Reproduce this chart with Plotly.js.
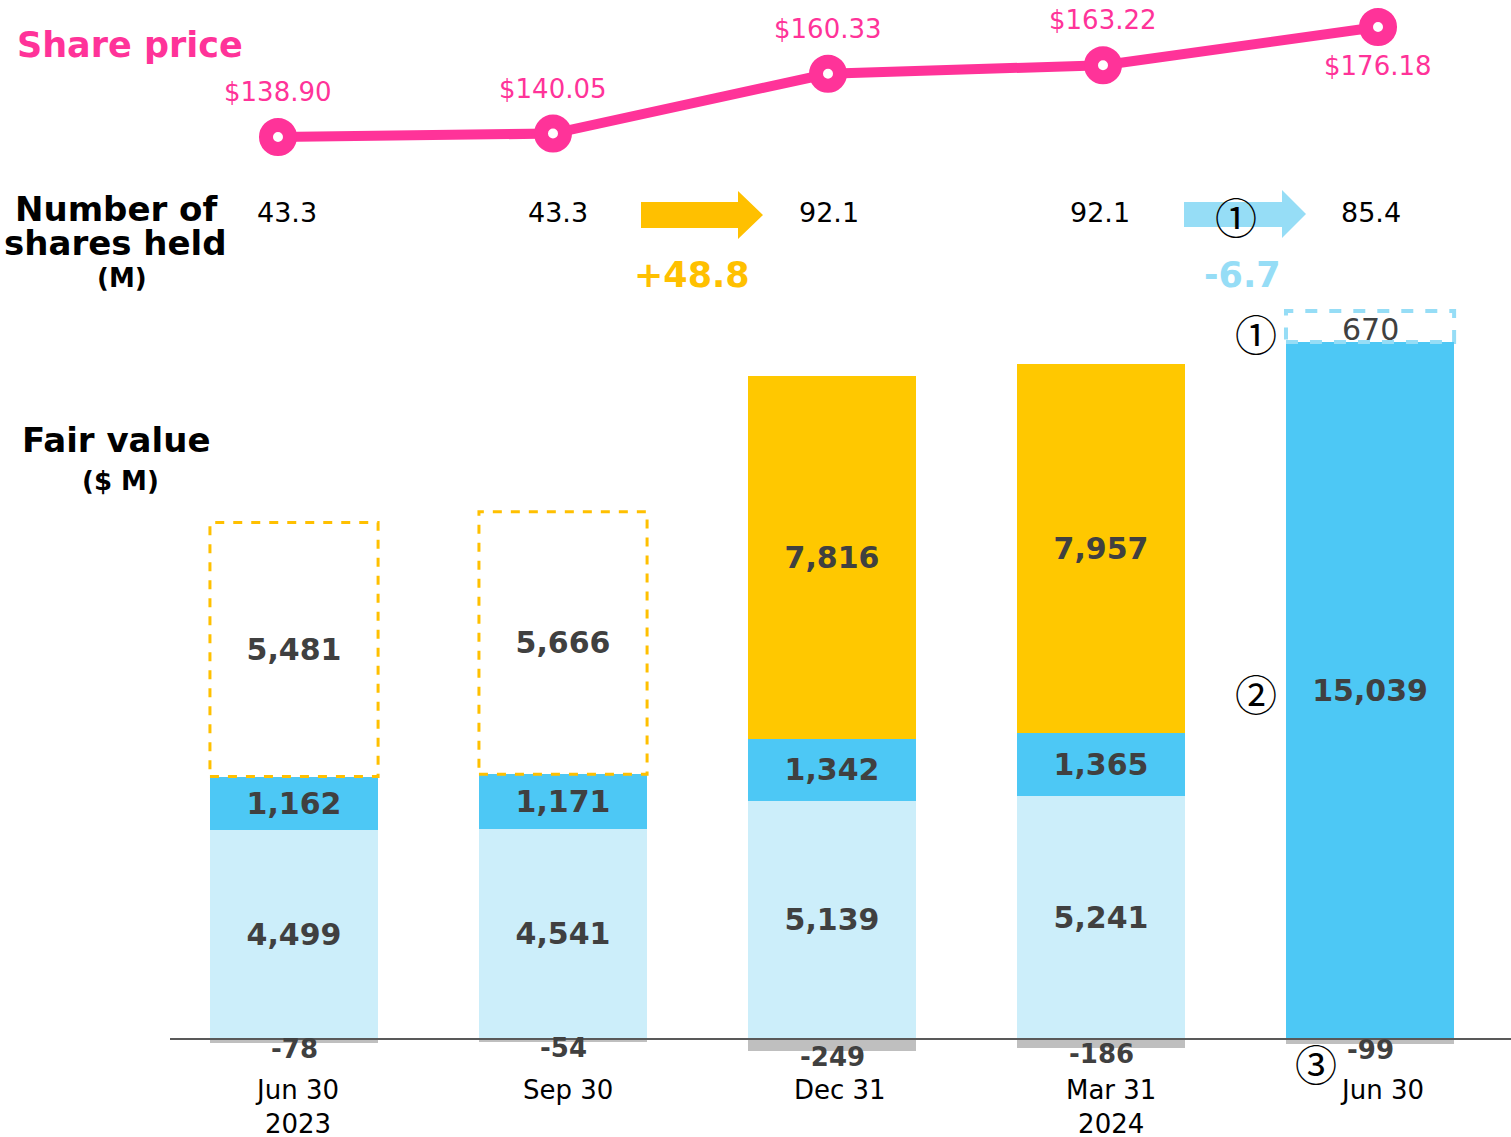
<!DOCTYPE html>
<html>
<head>
<meta charset="utf-8">
<script src="https://cdn.plot.ly/plotly-3.0.1.min.js"></script>
<style>html,body{margin:0;padding:0;background:#fff;}#chart{width:1511px;height:1137px;}</style>
</head>
<body>
<div id="chart"></div>
<script>
// ---- data ----
const categories = ['Jun 30<br>2023', 'Sep 30', 'Dec 31', 'Mar 31<br>2024', 'Jun 30'];
const sharePrice = [138.90, 140.05, 160.33, 163.22, 176.18];
const sharesHeld = [43.3, 43.3, 92.1, 92.1, 85.4];
const shareChanges = [48.8, -6.7];
const fvBase = [4499, 4541, 5139, 5241, null];
const fvMid = [1162, 1171, 1342, 1365, 15039];
const fvNew = [null, null, 7816, 7957, null];
const fvPotential = [5481, 5666, null, null, null];
const fvReduction = [null, null, null, null, 670];
const fvNegative = [-78, -54, -249, -186, -99];

// ---- helpers ----
const W = 1511, H = 1137, L = 170;
const px = p => (p - L) / (W - L);
const py = p => 1 - p / H;
const FONT = 'DejaVu Sans, Verdana, sans-serif';
const CJK = 'Noto Sans CJK JP, sans-serif';
const PINK = '#FF3399';
const YEL = '#FFC000';
const LBLUE = '#CCEEFA';
const MBLUE = '#4DC8F5';
const ABLUE = '#96DDF6';
const GREY = '#BFBFBF';
const TXT = '#404040';
const idx = categories.map((_, i) => i);
const fmt = v => (v === null ? '' : v.toLocaleString('en-US'));
const BW = 0.625;

function barTrace(vals, color, opts) {
  return Object.assign({
    type: 'bar', x: idx, y: vals, width: BW,
    marker: {color: color, line: {width: 0}},
    text: vals.map(fmt), textposition: 'inside', insidetextanchor: 'middle',
    textangle: 0, constraintext: 'none',
    textfont: {family: FONT, size: 30, color: TXT, weight: 'bold'},
    hoverinfo: 'skip', xaxis: 'x', yaxis: 'y', cliponaxis: false
  }, opts || {});
}

const traces = [
  barTrace(fvBase, LBLUE),
  barTrace(fvMid, MBLUE),
  barTrace(fvNew, '#FFC800'),
  barTrace(fvPotential, 'rgba(0,0,0,0)'),
  barTrace(fvReduction, 'rgba(0,0,0,0)', {text: fvReduction.map(() => '')}),
  barTrace(fvNegative, GREY, {text: fvNegative.map(() => '')}),
  {
    type: 'scatter', mode: 'lines+markers', x: idx, y: sharePrice,
    xaxis: 'x2', yaxis: 'y2', cliponaxis: false, hoverinfo: 'skip',
    line: {color: PINK, width: 10},
    marker: {size: 24, color: '#fff', line: {color: PINK, width: 14}}
  }
];

const shapes = [];
const annotations = [];
// dashed outlines
idx.forEach(i => {
  const below = (fvBase[i] || 0) + (fvMid[i] || 0) + (fvNew[i] || 0);
  if (fvPotential[i] !== null) {
    shapes.push({type: 'rect', xref: 'x', yref: 'y', x0: i - BW / 2, x1: i + BW / 2,
      y0: below, y1: below + fvPotential[i], line: {color: YEL, width: 3, dash: 'dash'}, layer: 'above'});
  }
  if (fvReduction[i] !== null) {
    shapes.push({type: 'rect', xref: 'x', yref: 'y', x0: i - BW / 2, x1: i + BW / 2,
      y0: below, y1: below + fvReduction[i], line: {color: ABLUE, width: 4, dash: 'dash'}, layer: 'above'});
    annotations.push({text: fmt(fvReduction[i]), xref: 'x', yref: 'y', x: i, y: below + fvReduction[i] / 2,
      yshift: -3, showarrow: false, xanchor: 'center', yanchor: 'middle',
      font: {family: FONT, size: 30, color: TXT}});
  }
});
// zero axis line
shapes.push({type: 'line', xref: 'paper', yref: 'y', x0: 0, x1: 1, y0: 0, y1: 0,
  line: {color: '#595959', width: 2}, layer: 'above'});

// arrows
function arrowPath(x0, xh, xt, st, sb, ht, hb) {
  const ym = (ht + hb) / 2;
  const pts = [[x0, st], [xh, st], [xh, ht], [xt, ym], [xh, hb], [xh, sb], [x0, sb]];
  return 'M ' + pts.map(p => px(p[0]) + ' ' + py(p[1])).join(' L ') + ' Z';
}
shapes.push({type: 'path', xref: 'paper', yref: 'paper', path: arrowPath(641, 738, 763, 202, 228, 191, 239),
  fillcolor: YEL, line: {width: 0}});
shapes.push({type: 'path', xref: 'paper', yref: 'paper', path: arrowPath(1184, 1282, 1306, 202, 227, 190, 238),
  fillcolor: ABLUE, line: {width: 0}});

function ann(text, x, y, size, color, family) {
  annotations.push({text: text, xref: 'paper', yref: 'paper', x: px(x), y: py(y),
    xanchor: 'center', yanchor: 'middle', showarrow: false,
    font: {family: family || FONT, size: size, color: color}});
}
// headings
ann('<b>Share price</b>', 130, 45, 35, PINK);
ann('<b>Number of</b>', 116, 209, 34, '#000');
ann('<b>shares held</b>', 115, 243, 34, '#000');
ann('<b>(M)</b>', 122, 278, 26, '#000');
ann('<b>Fair value</b>', 116, 440, 34, '#000');
ann('<b>($ M)</b>', 120, 481, 26, '#000');

// share price labels
sharePrice.forEach((v, i) => {
  const last = i === sharePrice.length - 1;
  annotations.push({text: '$' + v.toFixed(2), xref: 'x2', yref: 'y2', x: i, y: v,
    yshift: last ? -39 : 45, showarrow: false, xanchor: 'center', yanchor: 'middle',
    font: {family: FONT, size: 26, color: PINK}});
});
// shares held
sharesHeld.forEach((v, i) => {
  annotations.push({text: v.toFixed(1), xref: 'x', yref: 'paper', x: i, y: py(213),
    xshift: -7 + 2 * i, showarrow: false, xanchor: 'center', yanchor: 'middle',
    font: {family: FONT, size: 27, color: '#000'}});
});
// changes
ann('<b>+' + shareChanges[0].toFixed(1) + '</b>', 692, 275, 35, YEL);
ann('<b>' + shareChanges[1].toFixed(1) + '</b>', 1242, 275, 35, ABLUE);
// circled markers
ann('①', 1236, 215, 42, '#000', CJK);
ann('①', 1256, 332, 42, '#000', CJK);
ann('②', 1256, 692, 42, '#000', CJK);
ann('③', 1316, 1062, 42, '#000', CJK);

// negative labels
fvNegative.forEach((v, i) => {
  annotations.push({text: '<b>' + fmt(v) + '</b>', xref: 'x', yref: 'y', x: i, y: v,
    yshift: -6, showarrow: false, xanchor: 'center', yanchor: 'middle',
    font: {family: FONT, size: 26, color: TXT}});
});
// category labels
categories.forEach((c, i) => {
  annotations.push({text: c, xref: 'x', yref: 'paper', x: i, y: py(1073), xshift: 3 + 2.25 * i,
    showarrow: false, xanchor: 'center', yanchor: 'top',
    font: {family: FONT, size: 26, color: '#000'}});
});

const layout = {
  width: W, height: H,
  margin: {l: L, r: 0, t: 0, b: 0, pad: 0},
  paper_bgcolor: '#fff', plot_bgcolor: 'rgba(0,0,0,0)',
  showlegend: false, barmode: 'relative', bargap: 0,
  xaxis: {range: [-0.461, 4.524], visible: false, fixedrange: true},
  yaxis: {domain: [0, py(300)], range: [-2114, 15944], visible: false, fixedrange: true},
  xaxis2: {anchor: 'y2', range: [-0.3927, 4.4836], visible: false, fixedrange: true},
  yaxis2: {anchor: 'x2', domain: [py(180), 1], range: [124.31, 185.33], visible: false, fixedrange: true},
  shapes: shapes,
  annotations: annotations
};

Plotly.newPlot('chart', traces, layout, {displayModeBar: false, staticPlot: true});
</script>
</body>
</html>
